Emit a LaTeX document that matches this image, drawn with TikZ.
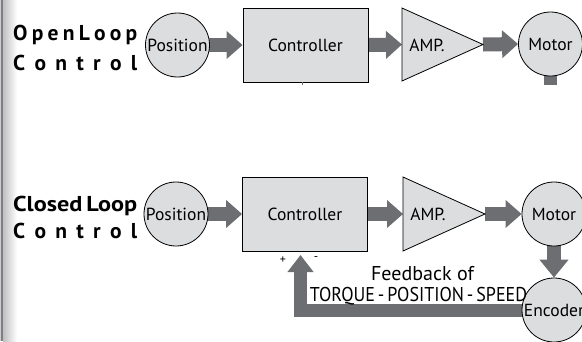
\documentclass[tikz,border=0pt]{standalone}
\usepackage{fontspec}
\setmainfont{PT Sans}
\usetikzlibrary{arrows.meta,backgrounds,calc}
\definecolor{arrowgray}{HTML}{6D6E71}
\definecolor{shapefill}{HTML}{DCDDDE}
\definecolor{barfill}{HTML}{7E7F84}
\begin{document}
\begin{tikzpicture}[x=1pt,y=-1pt,
  every node/.style={inner sep=0pt},
  lbl/.style={font=\fontsize{17.5}{19}\selectfont},
  biglbl/.style={anchor=base,font=\fontsize{20}{22}\selectfont},
  disc/.style={circle,draw=black,line width=0.8pt,fill=shapefill,minimum size=64pt,lbl},
  box/.style={rectangle,draw=black,line width=0.8pt,fill=shapefill,minimum width=125pt,minimum height=74pt,lbl},
  ampshape/.style={draw=black,line width=0.8pt,fill=shapefill,line join=miter},
  fat/.style={draw=arrowgray,line width=14pt,-{Triangle[length=16pt,width=27pt]}},
  fatfb/.style={draw=arrowgray,line width=13pt,line join=miter,-{Triangle[length=17pt,width=25pt]}},
  title/.style={anchor=base west,font=\fontsize{21.5}{24}\selectfont\bfseries},
  sign/.style={font=\fontsize{12}{13}\selectfont}]
\useasboundingbox (0,0) rectangle (582,341);

% ---------- open loop ----------
\node[title] (t1a) at (13,40.5) {\makebox[124pt][s]{O\hfill p\hfill e\hfill n\hfill L\hfill o\hfill o\hfill p}};
\node[title] (t1b) at (13,70) {\makebox[124pt][s]{C\hfill o\hfill n\hfill t\hfill r\hfill o\hfill l}};
\node[disc] (pos1) at (177.5,45) {Position};
\node[box] (ctrl1) at (305.5,45) {Controller};
\draw[ampshape] (402,8) -- (483,44.5) -- (402,81) -- cycle;
\coordinate (amp1w) at (402,44.5);
\coordinate (amp1e) at (483,44.5);
\node[lbl] (amp1) at (427,45) {AMP.};
\node[disc] (motor1) at (550.5,44) {Motor};
\coordinate (tick) at (302,82);
\draw[arrowgray,line width=1pt] (tick) -- ++(0,3);

% ---------- closed loop ----------
\node[title] (t2a) at (13,211) {\resizebox{124pt}{\height}{Closed\,Loop}};
\node[title] (t2b) at (13,238.5) {\makebox[124pt][s]{C\hfill o\hfill n\hfill t\hfill r\hfill o\hfill l}};
\node[disc] (pos2) at (176,214) {Position};
\node[box] (ctrl2) at (305,214) {Controller};
\draw[ampshape] (403,177) -- (485,214) -- (403,251) -- cycle;
\coordinate (amp2w) at (403,214);
\coordinate (amp2e) at (485,214);
\node[lbl] (amp2) at (428,214.5) {AMP.};
\node[disc] (motor2) at (554,214) {Motor};
\node[disc] (encoder) at (554,310) {Encoder};
\coordinate (fbtip) at (300.5,255);
\node[sign] (plus) at (283,260) {+};
\node[sign] (minus) at (316,259) {-};
\node[biglbl] (fb1) at (422.5,280) {Feedback of};
\node[biglbl] (fb2) at (418.5,301.5) {\scalebox{0.9}[1]{TORQUE\,-\,POSITION\,-\,SPEED}};

% ---------- background + connectors ----------
\begin{scope}[on background layer]
  \fill[white] (0,0) rectangle (582,341);
  \shade[left color=black!25,right color=white] (3,0) rectangle (17,341);
  \fill[barfill] (1,0) rectangle (3,341);
  \fill[black!20] (0,0) rectangle (1,341);
  \draw[fat] (pos1.center) -- (ctrl1.west);
  \draw[fat] (ctrl1.east) -- (amp1w);
  \draw[fat] (amp1e) -- (motor1.west);
  \fill[arrowgray] ($(motor1.south)+(-6.5,-2)$) rectangle ++(13,11);
  \draw[fat] (pos2.center) -- (ctrl2.west);
  \draw[fat] (ctrl2.east) -- (amp2w);
  \draw[fat] (amp2e) -- (motor2.west);
  \draw[fat,-{Triangle[length=18pt,width=28pt]}] (motor2.center) -- (encoder.north);
  \draw[fatfb] (encoder.center) -| (fbtip);
\end{scope}
\end{tikzpicture}
\end{document}
